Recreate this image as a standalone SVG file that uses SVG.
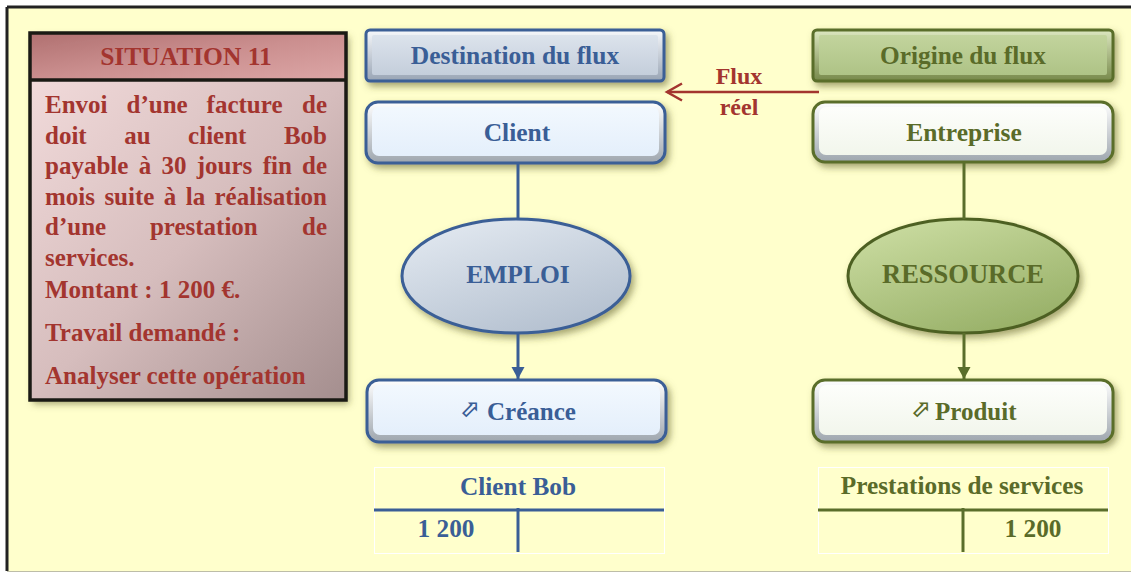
<svg xmlns="http://www.w3.org/2000/svg" width="1131" height="573" viewBox="0 0 1131 573">
<style>
.t{font-family:"Liberation Serif","Times New Roman",serif;font-weight:bold;}
.red{fill:#A3352F;}
.blue{fill:#3A5E96;}
.green{fill:#5A6B29;}
.sym{font-family:"DejaVu Sans",sans-serif;font-weight:bold;font-size:24px;}
.bl{stroke:#3A5E96;}
.gr{stroke:#5A6E2B;}
.tframe{fill:none;stroke:#FFFFFF;stroke-width:1;}
</style>
<defs>
<filter id="sh" x="-20%" y="-30%" width="140%" height="170%">
<feGaussianBlur in="SourceAlpha" stdDeviation="3.5"/>
<feOffset dx="3" dy="4" result="b"/>
<feFlood flood-color="#5E5E28" flood-opacity="0.55"/>
<feComposite in2="b" operator="in"/>
<feMerge><feMergeNode/><feMergeNode in="SourceGraphic"/></feMerge>
</filter>
<linearGradient id="hdr" x1="0" y1="0" x2="1" y2="1">
<stop offset="0" stop-color="#B07070"/><stop offset="0.5" stop-color="#CB8F8F"/><stop offset="1" stop-color="#DCA6A6"/>
</linearGradient>
<linearGradient id="body" x1="0" y1="0" x2="1" y2="1">
<stop offset="0" stop-color="#F1DADA"/><stop offset="0.5" stop-color="#D6BDBD"/><stop offset="1" stop-color="#A48E8E"/>
</linearGradient>
<linearGradient id="bevBlue" x1="0" y1="0" x2="0" y2="1">
<stop offset="0" stop-color="#F6F8FB"/><stop offset="1" stop-color="#98A4B4"/>
</linearGradient>
<linearGradient id="faceDest" x1="0" y1="0" x2="0" y2="1">
<stop offset="0" stop-color="#DCE3EC"/><stop offset="1" stop-color="#C4CEDB"/>
</linearGradient>
<linearGradient id="bevLight" x1="0" y1="0" x2="0" y2="1">
<stop offset="0" stop-color="#FFFFFF"/><stop offset="1" stop-color="#9EA6AE"/>
</linearGradient>
<linearGradient id="faceBlue" x1="0" y1="0" x2="0" y2="1">
<stop offset="0" stop-color="#F2F8FE"/><stop offset="1" stop-color="#E4EFFB"/>
</linearGradient>
<linearGradient id="ellBlue" x1="0" y1="0" x2="0.6" y2="1">
<stop offset="0" stop-color="#E6ECF3"/><stop offset="1" stop-color="#B6C2D1"/>
</linearGradient>
<linearGradient id="bevGreen" x1="0" y1="0" x2="0" y2="1">
<stop offset="0" stop-color="#DCE7C0"/><stop offset="1" stop-color="#77894A"/>
</linearGradient>
<linearGradient id="faceOrig" x1="0" y1="0" x2="0" y2="1">
<stop offset="0" stop-color="#C2D49D"/><stop offset="1" stop-color="#AEC386"/>
</linearGradient>
<linearGradient id="faceWhite" x1="0" y1="0" x2="0" y2="1">
<stop offset="0" stop-color="#FDFEFB"/><stop offset="1" stop-color="#F2F6EC"/>
</linearGradient>
<linearGradient id="ellGreen" x1="0" y1="0" x2="0.6" y2="1">
<stop offset="0" stop-color="#CFE0A6"/><stop offset="1" stop-color="#9AB26A"/>
</linearGradient>
<marker id="ahB" markerUnits="userSpaceOnUse" markerWidth="14" markerHeight="14" refX="12" refY="6.5" orient="auto" overflow="visible">
<path d="M0,0 L12,6.5 L0,13 Z" fill="#3A5E96"/>
</marker>
<marker id="ahG" markerUnits="userSpaceOnUse" markerWidth="14" markerHeight="14" refX="12" refY="6.5" orient="auto" overflow="visible">
<path d="M0,0 L12,6.5 L0,13 Z" fill="#5A6E2B"/>
</marker>
<marker id="ahR" markerUnits="userSpaceOnUse" markerWidth="18" markerHeight="18" refX="15" refY="8.5" orient="auto" overflow="visible">
<path d="M0,0 L15,8.5 L0,17" fill="none" stroke="#A3352F" stroke-width="2.5"/>
</marker>
</defs>

<rect x="0" y="0" width="1131" height="573" fill="#FFFFFF"/>
<rect x="7" y="7" width="1124" height="564" fill="#FFFFCC"/>
<line x1="7" y1="7" x2="1131" y2="7" stroke="#222222" stroke-width="3"/>
<line x1="7" y1="7" x2="7" y2="571" stroke="#222222" stroke-width="3"/>
<line x1="7" y1="571.5" x2="1131" y2="571.5" stroke="#BDBDA8" stroke-width="1"/>

<g id="situation">
<g filter="url(#sh)">
<rect x="30" y="33" width="316" height="47" fill="url(#hdr)"/>
<rect x="30" y="80" width="316" height="320" fill="url(#body)"/>
</g>
<rect x="30" y="33" width="316" height="367" fill="none" stroke="#1A1A14" stroke-width="3.5"/>
<line x1="30" y1="80" x2="346" y2="80" stroke="#1A1A14" stroke-width="3.5"/>
<text class="t red" x="186" y="65" font-size="25.5" text-anchor="middle">SITUATION 11</text>
<g class="t red" font-size="25">
<text x="45" y="113">Envoi</text><text x="126.5" y="113">d’une</text><text x="206.6" y="113">facture</text><text x="327" y="113" text-anchor="end">de</text>
<text x="45" y="143.5">doit</text><text x="124.2" y="143.5">au</text><text x="188.1" y="143.5">client</text><text x="327" y="143.5" text-anchor="end">Bob</text>
<text x="45" y="174">payable</text><text x="138.7" y="174">à</text><text x="161.5" y="174">30</text><text x="196.8" y="174">jours</text><text x="262.7" y="174">fin</text><text x="327" y="174" text-anchor="end">de</text>
<text x="45" y="204.5">mois</text><text x="104.4" y="204.5">suite</text><text x="163.8" y="204.5">à</text><text x="185.7" y="204.5">la</text><text x="327" y="204.5" text-anchor="end">réalisation</text>
<text x="45" y="235">d’une</text><text x="149.9" y="235">prestation</text><text x="327" y="235" text-anchor="end">de</text>
<text x="45" y="265.5">services.</text>
<text x="45" y="298">Montant : 1 200 €.</text>
<text x="45" y="341">Travail demandé :</text>
<text x="45" y="384">Analyser cette opération</text>
</g>
</g>

<g id="destination">
<rect x="366" y="30" width="298" height="51" rx="4" fill="url(#bevBlue)" stroke="#3A5E96" stroke-width="3" filter="url(#sh)"/>
<rect x="372" y="35" width="286" height="40" rx="2" fill="url(#faceDest)"/>
<text class="t blue" x="515" y="64" font-size="25.5" text-anchor="middle">Destination du flux</text>
</g>

<g id="client">
<rect x="366" y="102" width="299" height="61" rx="12" fill="url(#bevLight)" stroke="#3A5E96" stroke-width="3" filter="url(#sh)"/>
<rect x="372" y="107" width="287" height="49" rx="7" fill="url(#faceBlue)"/>
<text class="t blue" x="517" y="141" font-size="25.5" text-anchor="middle">Client</text>
</g>

<g id="emploi">
<ellipse cx="516" cy="276" rx="114" ry="57" fill="url(#ellBlue)" stroke="#3A5E96" stroke-width="3" filter="url(#sh)"/>
<text class="t blue" x="518" y="283" font-size="25.5" text-anchor="middle">EMPLOI</text>
</g>

<g id="creance">
<rect x="367" y="380" width="299" height="62" rx="12" fill="url(#bevLight)" stroke="#3A5E96" stroke-width="3" filter="url(#sh)"/>
<rect x="373" y="385" width="287" height="50" rx="7" fill="url(#faceBlue)"/>
<text class="sym blue" x="469" y="417" text-anchor="middle">⬀</text>
<text class="t blue" x="487" y="420" font-size="25">Créance</text>
</g>

<g id="compte-client-bob">
<rect class="tframe" x="374.5" y="467.5" width="290" height="86"/>
<text class="t blue" x="518" y="495" font-size="25.3" text-anchor="middle">Client Bob</text>
<line x1="374" y1="510" x2="664" y2="510" class="bl" stroke-width="3"/>
<line x1="518" y1="508" x2="518" y2="552" class="bl" stroke-width="3"/>
<text class="t blue" x="446" y="537" font-size="25.3" text-anchor="middle">1 200</text>
</g>

<g id="origine">
<rect x="813" y="30" width="300" height="51" rx="4" fill="url(#bevGreen)" stroke="#5A6E2B" stroke-width="3" filter="url(#sh)"/>
<rect x="819" y="35" width="288" height="40" rx="2" fill="url(#faceOrig)"/>
<text class="t green" x="963" y="64" font-size="25.3" text-anchor="middle">Origine du flux</text>
</g>

<g id="entreprise">
<rect x="813" y="102" width="300" height="60" rx="12" fill="url(#bevLight)" stroke="#5A6E2B" stroke-width="3" filter="url(#sh)"/>
<rect x="819" y="107" width="288" height="48" rx="7" fill="url(#faceWhite)"/>
<text class="t green" x="964" y="141" font-size="25.5" text-anchor="middle">Entreprise</text>
</g>

<g id="ressource">
<ellipse cx="963" cy="276" rx="115" ry="57" fill="url(#ellGreen)" stroke="#4E6124" stroke-width="3" filter="url(#sh)"/>
<text class="t green" x="963" y="283" font-size="26.5" text-anchor="middle">RESSOURCE</text>
</g>

<g id="produit">
<rect x="813" y="380" width="300" height="62" rx="12" fill="url(#bevLight)" stroke="#5A6E2B" stroke-width="3" filter="url(#sh)"/>
<rect x="819" y="385" width="288" height="50" rx="7" fill="url(#faceWhite)"/>
<text class="sym green" x="920" y="417" text-anchor="middle">⬀</text>
<text class="t green" x="935" y="420" font-size="25">Produit</text>
</g>

<g id="compte-prestations">
<rect class="tframe" x="818.5" y="467.5" width="290" height="86"/>
<text class="t green" x="962" y="494" font-size="25.3" text-anchor="middle">Prestations de services</text>
<line x1="818" y1="510" x2="1108" y2="510" class="gr" stroke-width="3"/>
<line x1="963" y1="508" x2="963" y2="552" class="gr" stroke-width="3"/>
<text class="t green" x="1033" y="537" font-size="25.3" text-anchor="middle">1 200</text>
</g>

<g id="flux-label">
<text class="t red" x="739" y="84" font-size="24" text-anchor="middle">Flux</text>
<text class="t red" x="739" y="115" font-size="24" text-anchor="middle">réel</text>
</g>

<g id="connectors" fill="none" stroke-width="3">
<line x1="518" y1="164" x2="518" y2="219" class="bl"/>
<line x1="518" y1="333" x2="518" y2="379" class="bl" marker-end="url(#ahB)"/>
<line x1="964" y1="163" x2="964" y2="219" class="gr"/>
<line x1="964" y1="333" x2="964" y2="379" class="gr" marker-end="url(#ahG)"/>
<line x1="819" y1="92" x2="667" y2="92" stroke="#A3352F" stroke-width="2.5" marker-end="url(#ahR)"/>
</g>
</svg>
